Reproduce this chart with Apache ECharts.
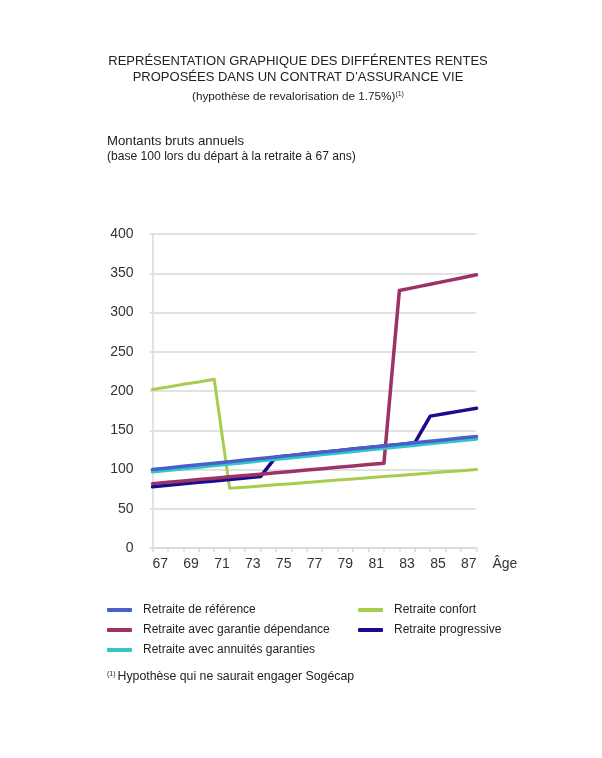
<!DOCTYPE html>
<html>
<head>
<meta charset="utf-8">
<script src="https://cdn.jsdelivr.net/npm/echarts@6/dist/echarts.min.js"></script>
<style>
  html, body { margin: 0; padding: 0; background: #ffffff; }
  #chart { width: 602px; height: 758px; }
</style>
</head>
<body>
<div id="chart"></div>
<script>
// ---- Data ----
var ages = [67, 68, 69, 70, 71, 72, 73, 74, 75, 76, 77, 78, 79, 80, 81, 82, 83, 84, 85, 86, 87, 88];
var ageTickLabels = ['67','68','69','70','71','72','73','74','75','76','77','78','79','80','81','82','83','84','85','86','87'];
var yTicks = [0, 50, 100, 150, 200, 250, 300, 350, 400];

var seriesNames = [
  'Retraite de référence',
  'Retraite avec garantie dépendance',
  'Retraite avec annuités garanties',
  'Retraite confort',
  'Retraite progressive'
];

var retraiteReference = [100, 102, 104, 106, 108, 110, 112, 114, 116, 118, 120, 122, 124, 126, 128, 130, 132, 134, 136, 138, 140, 142];
var retraiteDependance = [82, 83.7, 85.5, 87.2, 88.9, 90.7, 92.4, 94.1, 95.9, 97.6, 99.3, 101.1, 102.8, 104.5, 106.3, 108, 328, 332, 336, 340, 344, 348];
var retraiteAnnuites = [97, 99, 101, 103, 105, 107, 109, 111, 113, 115, 117, 119, 121, 123, 125, 127, 129, 131, 133, 135, 137, 139];
var retraiteConfort = [202, 205, 208.5, 211.5, 215, 76, 77.5, 79, 80.5, 82, 83.5, 85, 86.5, 88, 89.5, 91, 92.5, 94, 95.5, 97, 98.5, 100];
var retraiteProgressive = [78, 79.9, 81.7, 83.6, 85.4, 87.3, 89.1, 91, 116, 118, 120, 122, 124, 126, 128, 130, 132, 134, 168, 171.3, 174.7, 178];

var colors = {
  ref: '#4a5fca',
  dep: '#9b3366',
  ann: '#33c6c8',
  conf: '#a8cc52',
  prog: '#1d0b8f'
};

function pairs(vals) {
  return ages.map(function (a, i) { return [a, vals[i]]; });
}

var FONT = '"Liberation Sans", Arial, sans-serif';
var chart = echarts.init(document.getElementById('chart'), null, { renderer: 'canvas' });

function lineSeries(name, vals, color, width, z) {
  return {
    name: name,
    type: 'line',
    xAxisIndex: 0,
    data: pairs(vals),
    showSymbol: false,
    symbol: 'none',
    z: z,
    lineStyle: { color: color, width: width, cap: 'round', join: 'round' },
    itemStyle: { color: color },
    emphasis: { disabled: true },
    animation: false
  };
}

var legendCommon = {
  orient: 'vertical',
  icon: 'roundRect',
  itemWidth: 25,
  itemHeight: 4,
  itemGap: 8,
  padding: 0,
  textStyle: { fontFamily: FONT, fontSize: 12, color: '#222', padding: [0, 0, 0, 6] },
  selectedMode: false
};

var option = {
  backgroundColor: '#ffffff',
  animation: false,
  textStyle: { fontFamily: FONT },
  grid: { left: 152.5, right: 125.5, top: 234, bottom: 210, containLabel: false },
  legend: [
    Object.assign({}, legendCommon, { left: 107, top: 604, data: [seriesNames[0], seriesNames[1], seriesNames[2]] }),
    Object.assign({}, legendCommon, { left: 358, top: 604, data: [seriesNames[3], seriesNames[4]] })
  ],
  graphic: [
    {
      type: 'text', x: 298, y: 54,
      style: {
        text: 'REPRÉSENTATION GRAPHIQUE DES DIFFÉRENTES RENTES\nPROPOSÉES DANS UN CONTRAT D’ASSURANCE VIE',
        font: '13px ' + FONT, fill: '#222', align: 'center', verticalAlign: 'top', lineHeight: 15.5
      }
    },
    {
      type: 'text', x: 298, y: 91,
      style: {
        text: '(hypothèse de revalorisation de 1.75%){sup|(1)}',
        font: '11.7px ' + FONT, fill: '#222', align: 'center', verticalAlign: 'top',
        rich: { sup: { fontSize: 7, verticalAlign: 'top', fill: '#222', fontFamily: FONT } }
      }
    },
    {
      type: 'text', x: 107, y: 135,
      style: { text: 'Montants bruts annuels', font: '13.2px ' + FONT, fill: '#222', verticalAlign: 'top' }
    },
    {
      type: 'text', x: 107, y: 151,
      style: { text: '(base 100 lors du départ à la retraite à 67 ans)', font: '12.1px ' + FONT, fill: '#222', verticalAlign: 'top' }
    },
    {
      type: 'text', x: 107, y: 671,
      style: {
        text: '{sup|(1)}Hypothèse qui ne saurait engager Sogécap',
        font: '12.3px ' + FONT, fill: '#222', verticalAlign: 'top',
        rich: { sup: { fontSize: 7, verticalAlign: 'top', fill: '#222', fontFamily: FONT, padding: [0, 2, 0, 0] } }
      }
    }
  ],
  xAxis: [
    {
      type: 'value',
      min: ages[0],
      max: ages[ages.length - 1],
      interval: 1,
      position: 'bottom',
      name: 'Âge',
      nameLocation: 'end',
      nameGap: 16,
      nameTextStyle: { fontFamily: FONT, fontSize: 14, color: '#333', verticalAlign: 'top', padding: [9, 0, 0, 0] },
      axisLine: { show: true, lineStyle: { color: '#d9d9d9', width: 1.5 } },
      axisTick: { show: true, length: 4, lineStyle: { color: '#d9d9d9', width: 1.5 } },
      axisLabel: { show: false },
      splitLine: { show: false }
    },
    {
      type: 'category',
      data: ageTickLabels,
      boundaryGap: true,
      position: 'bottom',
      axisLine: { show: false },
      axisTick: { show: false },
      axisLabel: { interval: 1, margin: 9, fontFamily: FONT, fontSize: 14, color: '#333' },
      splitLine: { show: false }
    }
  ],
  yAxis: {
    type: 'value',
    min: yTicks[0],
    max: yTicks[yTicks.length - 1],
    interval: 50,
    axisLine: { show: true, lineStyle: { color: '#d9d9d9', width: 1.5 } },
    axisTick: { show: true, length: 3, lineStyle: { color: '#d9d9d9', width: 1.5 } },
    axisLabel: { margin: 19, fontFamily: FONT, fontSize: 14, color: '#333' },
    splitLine: { show: true, lineStyle: { color: '#d9d9d9', width: 1.5 } }
  },
  series: [
    lineSeries(seriesNames[3], retraiteConfort, colors.conf, 3, 2),
    lineSeries(seriesNames[4], retraiteProgressive, colors.prog, 3.5, 3),
    lineSeries(seriesNames[1], retraiteDependance, colors.dep, 3.5, 4),
    lineSeries(seriesNames[2], retraiteAnnuites, colors.ann, 3.5, 5),
    lineSeries(seriesNames[0], retraiteReference, colors.ref, 3.5, 6)
  ]
};

chart.setOption(option);
</script>
</body>
</html>
